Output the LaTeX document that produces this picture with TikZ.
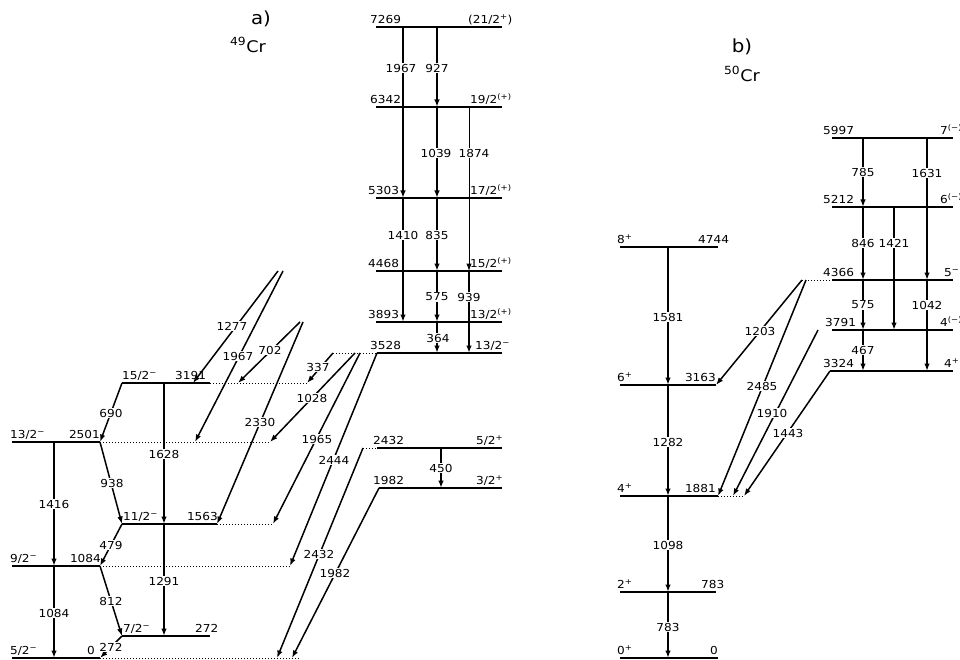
\documentclass[tikz,border=0pt]{standalone}
\usepackage{fontspec}
\setmainfont{DejaVu Sans}[FakeStretch=1.1]
\usetikzlibrary{arrows.meta}
\begin{document}
\begin{tikzpicture}[x=1pt,y=-1pt,
  lev/.style={line width=1.6pt},
  dotl/.style={line width=1pt, dash pattern=on 1pt off 2pt},
  tr/.style={line width=1.5pt,-{Latex[length=7.5pt,width=5.5pt]}},
  trk/.style={tr, line width=2.6pt},
  trm/.style={tr, line width=2pt},
  trt/.style={tr, line width=1pt},
  lab/.style={font=\fontsize{11}{13}\selectfont, inner sep=0.8pt, fill=white},
  lvl/.style={font=\fontsize{11}{13}\selectfont, inner sep=0pt},
  ttl/.style={font=\fontsize{18}{20}\selectfont, inner sep=0pt},
]
\useasboundingbox (0,0) rectangle (960,660);
\fill[white] (0,0) rectangle (960,660);

% ---------- columns ----------
\coordinate (cA1) at (403,0);
\coordinate (cA2) at (437,0);
\coordinate (cA3) at (469,0);
\coordinate (cA4) at (441,0);
\coordinate (cA5) at (54,0);
\coordinate (cA6) at (164,0);
\coordinate (cB1) at (668,0);
\coordinate (cB2) at (863,0);
\coordinate (cB3) at (894,0);
\coordinate (cB4) at (927,0);

% ---------- 49Cr levels ----------
\coordinate (A7269l) at (376,27);  \coordinate (A7269r) at (502,27);
\coordinate (A6342l) at (376,107); \coordinate (A6342r) at (502,107);
\coordinate (A5303l) at (376,198); \coordinate (A5303r) at (502,198);
\coordinate (A4468l) at (376,271); \coordinate (A4468r) at (502,271);
\coordinate (A3893l) at (376,322); \coordinate (A3893r) at (502,322);
\coordinate (A3528d) at (333,353); \coordinate (A3528l) at (377,353); \coordinate (A3528r) at (502,353);
\coordinate (A2432d) at (363,448); \coordinate (A2432l) at (377,448); \coordinate (A2432r) at (502,448);
\coordinate (A1982l) at (379,488); \coordinate (A1982r) at (502,488);
\coordinate (A3191l) at (122,383); \coordinate (A3191r) at (210,383); \coordinate (A3191d) at (307,383);
\coordinate (A2501l) at (12,442);  \coordinate (A2501r) at (100,442); \coordinate (A2501d) at (270,442);
\coordinate (A1563l) at (122,524); \coordinate (A1563r) at (217,524); \coordinate (A1563d) at (273,524);
\coordinate (A1084l) at (12,566);  \coordinate (A1084r) at (100,566); \coordinate (A1084d) at (290,566);
\coordinate (A272l) at (122,636);  \coordinate (A272r) at (210,636);
\coordinate (A0l) at (12,658);     \coordinate (A0r) at (100,658);    \coordinate (A0d) at (300,658);
% free ends of feeding lines
\coordinate (S4468a) at (278,271); \coordinate (S4468b) at (283,271);
\coordinate (S3893a) at (300,322); \coordinate (S3893b) at (303,322);
\coordinate (S1028) at (355,353);  \coordinate (S1965) at (360,353);
\coordinate (E1277) at (193,383);  \coordinate (E1967) at (195,442);
\coordinate (E702) at (238,383);
\coordinate (E2432) at (277,658);  \coordinate (E1982) at (292,658);

\foreach \n in {7269,6342,5303,4468,3893,3528,2432,1982,3191,2501,1563,1084,272,0}
  \draw[lev] (A\n l) -- (A\n r);
\draw[dotl] (A3528d) -- (A3528l);
\draw[dotl] (A2432d) -- (A2432l);
\draw[dotl] (A3191r) -- (A3191d);
\draw[dotl] (A2501r) -- (A2501d);
\draw[dotl] (A1563r) -- (A1563d);
\draw[dotl] (A1084r) -- (A1084d);
\draw[dotl] (A0r) -- (A0d);

% ---------- 49Cr transitions ----------
\draw[trk] (cA1 |- A7269l) -- (cA1 |- A5303l);
\draw[trk] (cA1 |- A5303l) -- (cA1 |- A3893l);
\draw[trm] (cA2 |- A7269l) -- (cA2 |- A6342l);
\draw[trm] (cA2 |- A6342l) -- (cA2 |- A5303l);
\draw[trm] (cA2 |- A5303l) -- (cA2 |- A4468l);
\draw[trm] (cA2 |- A4468l) -- (cA2 |- A3893l);
\draw[trm] (cA2 |- A3893l) -- (cA2 |- A3528l);
\draw[trt] (cA3 |- A6342l) -- (cA3 |- A4468l);
\draw[tr]  (cA3 |- A4468l) -- (cA3 |- A3528l);
\draw[tr]  (cA4 |- A2432l) -- (cA4 |- A1982l);

\draw[tr] (A3191l) -- (A2501r);
\draw[tr] (A2501r) -- (A1563l);
\draw[tr] (A1563l) -- (A1084r);
\draw[tr] (A1084r) -- (A272l);
\draw[tr] (A272l) -- (A0r);
\draw[tr] (cA5 |- A2501l) -- (cA5 |- A1084l);
\draw[tr] (cA5 |- A1084l) -- (cA5 |- A0l);
\draw[tr] (cA6 |- A3191l) -- (cA6 |- A1563l);
\draw[tr] (cA6 |- A1563l) -- (cA6 |- A272l);

\draw[tr] (S4468a) -- (E1277);
\draw[tr] (S4468b) -- (E1967);
\draw[tr] (S3893a) -- (E702);
\draw[tr] (S3893b) -- (A1563r);
\draw[tr] (A3528d) -- (A3191d);
\draw[tr] (S1028) -- (A2501d);
\draw[tr] (S1965) -- (A1563d);
\draw[tr] (A3528l) -- (A1084d);
\draw[tr] (A2432d) -- (E2432);
\draw[tr] (A1982l) -- (E1982);

% ---------- 50Cr levels ----------
\coordinate (B4744l) at (620,247); \coordinate (B4744r) at (718,247);
\coordinate (B3163l) at (620,385); \coordinate (B3163r) at (716,385);
\coordinate (B1881l) at (620,496); \coordinate (B1881r) at (718,496); \coordinate (B1881d) at (744,496);
\coordinate (B783l) at (620,592);  \coordinate (B783r) at (716,592);
\coordinate (B0l) at (620,658);    \coordinate (B0r) at (718,658);
\coordinate (B5997l) at (832,138); \coordinate (B5997r) at (953,138);
\coordinate (B5212l) at (832,207); \coordinate (B5212r) at (953,207);
\coordinate (B4366d) at (802,280); \coordinate (B4366l) at (832,280); \coordinate (B4366r) at (953,280);
\coordinate (B3791l) at (832,330); \coordinate (B3791r) at (953,330);
\coordinate (B3324l) at (830,371); \coordinate (B3324r) at (953,371);
\coordinate (S2485) at (806,280);  \coordinate (S1910) at (818,330);
\coordinate (E1910) at (733,496);

\foreach \n in {4744,3163,1881,783,0,5997,5212,4366,3791,3324}
  \draw[lev] (B\n l) -- (B\n r);
\draw[dotl] (B1881r) -- (B1881d);
\draw[dotl] (B4366d) -- (B4366l);

% ---------- 50Cr transitions ----------
\draw[trm] (cB1 |- B4744l) -- (cB1 |- B3163l);
\draw[trm] (cB1 |- B3163l) -- (cB1 |- B1881l);
\draw[trm] (cB1 |- B1881l) -- (cB1 |- B783l);
\draw[tr]  (cB1 |- B783l) -- (cB1 |- B0l);
\draw[trm] (cB2 |- B5997l) -- (cB2 |- B5212l);
\draw[tr]  (cB2 |- B5212l) -- (cB2 |- B4366l);
\draw[trm] (cB2 |- B4366l) -- (cB2 |- B3791l);
\draw[tr]  (cB2 |- B3791l) -- (cB2 |- B3324l);
\draw[trm] (cB3 |- B5212l) -- (cB3 |- B3791l);
\draw[tr]  (cB4 |- B5997l) -- (cB4 |- B4366l);
\draw[tr]  (cB4 |- B4366l) -- (cB4 |- B3324l);
\draw[tr] (B4366d) -- (B3163r);
\draw[tr] (S2485) -- (B1881r);
\draw[tr] (S1910) -- (E1910);
\draw[tr] (B3324l) -- (B1881d);

% ---------- transition labels 49Cr ----------
\node[lab] (g1967) at (401,68) {1967};
\node[lab] (g927)  at (437,68) {927};
\node[lab] (g1039) at (436,153) {1039};
\node[lab] (g1874) at (474,153) {1874};
\node[lab] (g1410) at (403,235) {1410};
\node[lab] (g835)  at (437,235) {835};
\node[lab] (g575)  at (437,297) {575};
\node[lab] (g939)  at (469,297) {939};
\node[lab] (g364)  at (438,338) {364};
\node[lab] (g450)  at (441,468) {450};
\node[lab] (g690)  at (111,413) {690};
\node[lab] (g938)  at (112,483) {938};
\node[lab] (g479)  at (111,545) {479};
\node[lab] (g812)  at (111,601) {812};
\node[lab] (g272)  at (111,647) {272};
\node[lab] (g1416) at (54,504) {1416};
\node[lab] (g1084) at (54,613) {1084};
\node[lab] (g1628) at (164,454) {1628};
\node[lab] (g1291) at (164,581) {1291};
\node[lab] (g1277) at (232,326) {1277};
\node[lab] (g1967b) at (238,356) {1967};
\node[lab] (g702)  at (270,350) {702};
\node[lab] (g2330) at (260,422) {2330};
\node[lab] (g337)  at (318,367) {337};
\node[lab] (g1028) at (312,398) {1028};
\node[lab] (g1965) at (317,439) {1965};
\node[lab] (g2444) at (334,460) {2444};
\node[lab] (g2432) at (319,554) {2432};
\node[lab] (g1982) at (335,573) {1982};

% ---------- level labels 49Cr ----------
\node[lvl,anchor=base west] (l7269) at (370,23.5) {7269};
\node[lvl,anchor=base west] (s7269) at (468,23.5) {(21/2\textsuperscript{+})};
\node[lvl,anchor=base west] (l6342) at (370,103.5) {6342};
\node[lvl,anchor=base west] (s6342) at (470,103.5) {19/2\textsuperscript{(+)}};
\node[lvl,anchor=base west] (l5303) at (368,194.5) {5303};
\node[lvl,anchor=base west] (s5303) at (470,194.5) {17/2\textsuperscript{(+)}};
\node[lvl,anchor=base west] (l4468) at (368,267.5) {4468};
\node[lvl,anchor=base west] (s4468) at (470,267.5) {15/2\textsuperscript{(+)}};
\node[lvl,anchor=base west] (l3893) at (368,318.5) {3893};
\node[lvl,anchor=base west] (s3893) at (470,318.5) {13/2\textsuperscript{(+)}};
\node[lvl,anchor=base west] (l3528) at (370,349.5) {3528};
\node[lvl,anchor=base west] (s3528) at (475,349.5) {13/2\textsuperscript{−}};
\node[lvl,anchor=base west] (l2432) at (373,444.5) {2432};
\node[lvl,anchor=base west] (s2432) at (476,444.5) {5/2\textsuperscript{+}};
\node[lvl,anchor=base west] (l1982) at (373,484.5) {1982};
\node[lvl,anchor=base west] (s1982) at (476,484.5) {3/2\textsuperscript{+}};
\node[lvl,anchor=base west] (s3191) at (122,379.5) {15/2\textsuperscript{−}};
\node[lvl,anchor=base west] (l3191) at (175,379.5) {3191};
\node[lvl,anchor=base west] (s2501) at (10,438.5) {13/2\textsuperscript{−}};
\node[lvl,anchor=base east] (l2501) at (100,438.5) {2501};
\node[lvl,anchor=base west] (s1563) at (123,520.5) {11/2\textsuperscript{−}};
\node[lvl,anchor=base east] (l1563) at (218,520.5) {1563};
\node[lvl,anchor=base west] (s1084) at (10,562.5) {9/2\textsuperscript{−}};
\node[lvl,anchor=base east] (l1084) at (101,562.5) {1084};
\node[lvl,anchor=base west] (s272) at (123,632.5) {7/2\textsuperscript{−}};
\node[lvl,anchor=base west] (l272) at (195,632.5) {272};
\node[lvl,anchor=base west] (s0) at (10,654.5) {5/2\textsuperscript{−}};
\node[lvl,anchor=base west] (l0) at (87,654.5) {0};

% ---------- transition labels 50Cr ----------
\node[lab] (h1581) at (668,317) {1581};
\node[lab] (h1282) at (668,442) {1282};
\node[lab] (h1098) at (668,545) {1098};
\node[lab] (h783)  at (668,627) {783};
\node[lab] (h785)  at (863,172) {785};
\node[lab] (h846)  at (863,243) {846};
\node[lab] (h575)  at (863,305) {575};
\node[lab] (h467)  at (863,350) {467};
\node[lab] (h1421) at (894,243) {1421};
\node[lab] (h1631) at (927,173) {1631};
\node[lab] (h1042) at (927,305) {1042};
\node[lab] (h1203) at (760,331) {1203};
\node[lab] (h2485) at (762,386) {2485};
\node[lab] (h1910) at (772,413) {1910};
\node[lab] (h1443) at (788,433) {1443};

% ---------- level labels 50Cr ----------
\node[lvl,anchor=base west] (sB4744) at (617,243.5) {8\textsuperscript{+}};
\node[lvl,anchor=base west] (lB4744) at (698,243.5) {4744};
\node[lvl,anchor=base west] (sB3163) at (617,381.5) {6\textsuperscript{+}};
\node[lvl,anchor=base east] (lB3163) at (716,381.5) {3163};
\node[lvl,anchor=base west] (sB1881) at (617,492.5) {4\textsuperscript{+}};
\node[lvl,anchor=base east] (lB1881) at (716,492.5) {1881};
\node[lvl,anchor=base west] (sB783) at (617,588.5) {2\textsuperscript{+}};
\node[lvl,anchor=base west] (lB783) at (701,588.5) {783};
\node[lvl,anchor=base west] (sB0) at (617,654.5) {0\textsuperscript{+}};
\node[lvl,anchor=base west] (lB0) at (710,654.5) {0};
\node[lvl,anchor=base west] (lB5997) at (823,134.5) {5997};
\node[lvl,anchor=base west] (sB5997) at (940,134.5) {7\textsuperscript{(−)}};
\node[lvl,anchor=base west] (lB5212) at (823,203.5) {5212};
\node[lvl,anchor=base west] (sB5212) at (940,203.5) {6\textsuperscript{(−)}};
\node[lvl,anchor=base west] (lB4366) at (823,276.5) {4366};
\node[lvl,anchor=base west] (sB4366) at (944,276.5) {5\textsuperscript{−}};
\node[lvl,anchor=base west] (lB3791) at (825,326.5) {3791};
\node[lvl,anchor=base west] (sB3791) at (940,326.5) {4\textsuperscript{(−)}};
\node[lvl,anchor=base west] (lB3324) at (823,367.5) {3324};
\node[lvl,anchor=base west] (sB3324) at (944,367.5) {4\textsuperscript{+}};

% ---------- titles ----------
\node[ttl] (ta) at (261,19) {a)};
\node[ttl,font=\fontsize{16}{18}\selectfont] (tac) at (248,45) {\textsuperscript{49}Cr};
\node[ttl] (tb) at (742,47) {b)};
\node[ttl,font=\fontsize{16}{18}\selectfont] (tbc) at (742,74) {\textsuperscript{50}Cr};
\end{tikzpicture}
\end{document}
